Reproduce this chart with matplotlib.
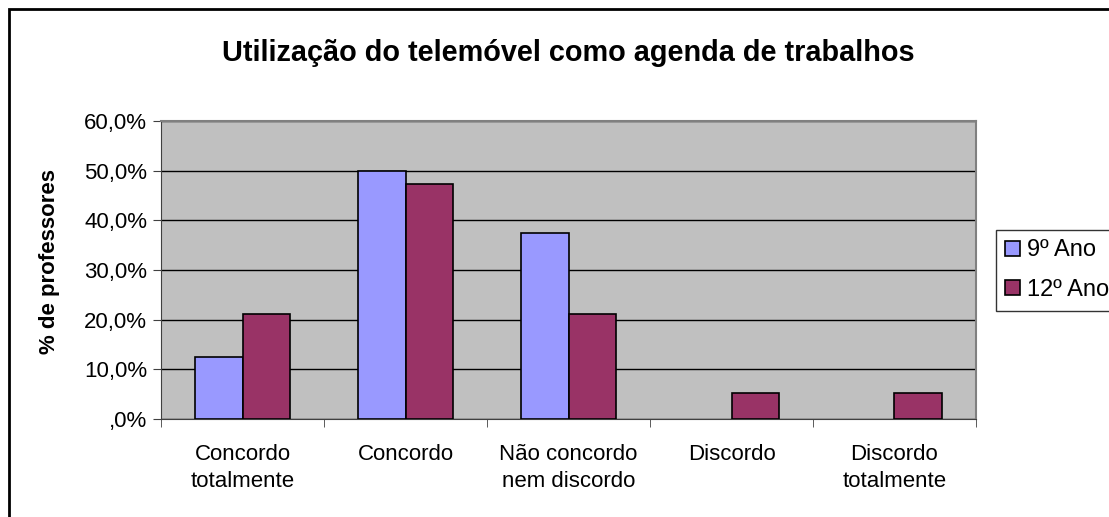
import numpy as np
import matplotlib.pyplot as plt
from matplotlib.patches import Rectangle

plt.rcParams["font.family"] = ["Liberation Sans", "DejaVu Sans"]

categories = ["Concordo\ntotalmente", "Concordo", "Não concordo\nnem discordo",
              "Discordo", "Discordo\ntotalmente"]
ano9 = [12.5, 50.0, 37.5, 0.0, 0.0]
ano12 = [21.05, 47.37, 21.05, 5.26, 5.26]
series_names = ["9º Ano", "12º Ano"]
yticks = [0, 10, 20, 30, 40, 50, 60]
ytick_labels = [",0%", "10,0%", "20,0%", "30,0%", "40,0%", "50,0%", "60,0%"]

fig = plt.figure(figsize=(11.09, 5.17), dpi=100)
# chart border (Excel style)
fig.patches.append(Rectangle((9 / 1109, -0.1), 1.2, 1 - 9 / 517 + 0.1,
                             transform=fig.transFigure, fill=False,
                             edgecolor="black", linewidth=2))

ax = fig.add_axes([161 / 1109, 1 - 419 / 517, (976 - 161) / 1109, (419 - 121) / 517])
ax.set_facecolor("#C0C0C0")

x = np.arange(len(categories))
w = 0.29
ax.bar(x - w / 2, ano9, width=w, color="#9999FF", edgecolor="black",
       linewidth=[1.2 if v > 0 else 0 for v in ano9], label=series_names[0], zorder=3)
ax.bar(x + w / 2, ano12, width=w, color="#993366", edgecolor="black",
       linewidth=[1.2 if v > 0 else 0 for v in ano12], label=series_names[1], zorder=3)

ax.set_xlim(-0.5, len(categories) - 0.5)
ax.set_ylim(0, 60)
ax.set_yticks(yticks, ytick_labels, fontsize=16)
ax.yaxis.grid(True, color="black", linewidth=1, zorder=1)
ax.set_axisbelow(True)

ax.set_xticks(x, categories, fontsize=16, linespacing=1.38)
ax.tick_params(axis="x", length=0, pad=18)
ax.set_xticks(np.arange(len(categories) + 1) - 0.5, minor=True)
ax.tick_params(axis="x", which="minor", length=6, direction="out", color="#404040")
ax.tick_params(axis="y", length=6, direction="out", color="#404040", pad=4)

for s in ["left", "bottom"]:
    ax.spines[s].set_color("#404040")
for s in ["top", "right"]:
    ax.spines[s].set_color("#808080")
    ax.spines[s].set_linewidth(1.5)

ax.set_ylabel("% de professores", fontsize=16, fontweight="bold")
ax.yaxis.set_label_coords(-0.124, 0.53)
fig.suptitle("Utilização do telemóvel como agenda de trabalhos",
             x=568 / 1109, y=1 - 53 / 517, va="center",
             fontsize=20.8, fontweight="bold")

leg = ax.legend(loc="upper left", bbox_to_anchor=(996 / 1109, 1 - 230 / 517),
                bbox_transform=fig.transFigure, fontsize=17, frameon=True,
                fancybox=False, edgecolor="black", handlelength=0.6,
                handleheight=0.6, handletextpad=0.3, borderpad=0.4,
                labelspacing=0.75, borderaxespad=0)
leg.get_frame().set_linewidth(1)

fig.savefig("out.png", dpi=100)
